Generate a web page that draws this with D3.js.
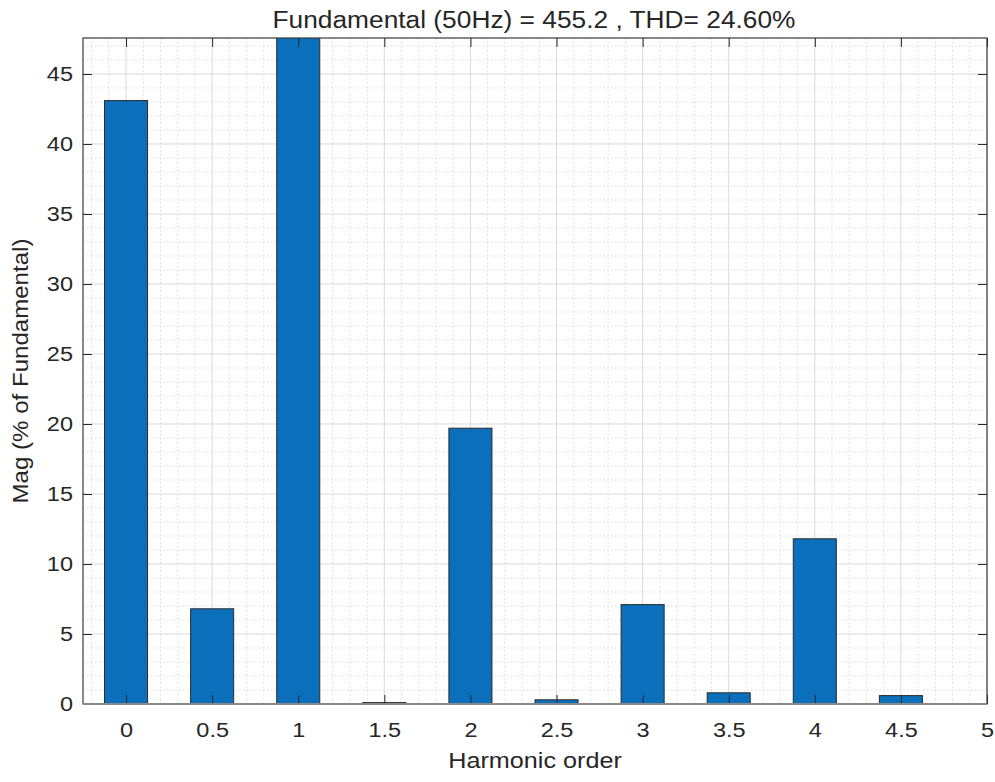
<!DOCTYPE html>
<html>
<head>
<meta charset="utf-8">
<script src="https://cdn.jsdelivr.net/npm/d3@7"></script>
<style>
  body { margin: 0; background: #fff; }
  text { font-family: "Liberation Sans", Arial, sans-serif; fill: #262626; }
</style>
</head>
<body>
<svg id="chart" width="995" height="782"></svg>
<script>
// ---- data ----
const harmonicOrders = [0, 0.5, 1, 1.5, 2, 2.5, 3, 3.5, 4, 4.5];
const magnitudes     = [43.1, 6.8, 100, 0.1, 19.7, 0.3, 7.1, 0.8, 11.8, 0.6];
const xTicks = [0, 0.5, 1, 1.5, 2, 2.5, 3, 3.5, 4, 4.5, 5];
const yTicks = [0, 5, 10, 15, 20, 25, 30, 35, 40, 45];
const titleText = "Fundamental (50Hz) = 455.2 , THD= 24.60%";
const xLabel = "Harmonic order";
const yLabel = "Mag (% of Fundamental)";

// ---- layout ----
const svg = d3.select("#chart");
const L = 83, R = 987, T = 38, B = 704;
const SX = 1.12; // horizontal stretch of text seen in reference

const x = d3.scaleLinear().domain([-0.25, 5]).range([L, R]);
const y = d3.scaleLinear().domain([0, 47.57]).range([B, T]);

svg.append("rect").attr("x", L).attr("y", T).attr("width", R - L).attr("height", B - T).attr("fill", "#fff");

// minor grid
const xMinor = d3.range(-0.2, 5.001, 0.1).map(v => +v.toFixed(2)).filter(v => Math.abs(v * 2 - Math.round(v * 2)) > 1e-6);
const yMinor = d3.range(1, 48, 1).filter(v => v % 5 !== 0);
const grid = svg.append("g");
grid.selectAll(".xm").data(xMinor).join("line")
  .attr("x1", d => x(d)).attr("x2", d => x(d)).attr("y1", T).attr("y2", B)
  .attr("stroke", "#cfcfcf").attr("stroke-width", 0.8).attr("stroke-dasharray", "1.5,2.5");
grid.selectAll(".ym").data(yMinor).join("line")
  .attr("x1", L).attr("x2", R).attr("y1", d => y(d)).attr("y2", d => y(d))
  .attr("stroke", "#cfcfcf").attr("stroke-width", 0.8).attr("stroke-dasharray", "1.5,2.5");
// major grid
grid.selectAll(".xM").data(xTicks).join("line")
  .attr("x1", d => x(d)).attr("x2", d => x(d)).attr("y1", T).attr("y2", B)
  .attr("stroke", "#dadada").attr("stroke-width", 1);
grid.selectAll(".yM").data(yTicks).join("line")
  .attr("x1", L).attr("x2", R).attr("y1", d => y(d)).attr("y2", d => y(d))
  .attr("stroke", "#dadada").attr("stroke-width", 1);

// bars
svg.append("clipPath").attr("id", "clip").append("rect")
  .attr("x", L).attr("y", T).attr("width", R - L).attr("height", B - T);
const bw = x(0.25) - x(0);
svg.append("g").attr("clip-path", "url(#clip)")
  .selectAll("rect").data(harmonicOrders).join("rect")
  .attr("x", (d) => x(d) - bw / 2)
  .attr("y", (d, i) => y(magnitudes[i]))
  .attr("width", bw)
  .attr("height", (d, i) => B - y(magnitudes[i]))
  .attr("fill", "#0b6fbb")
  .attr("stroke", "#2a2a2a").attr("stroke-width", 1);

// axes (MATLAB box with inward ticks)
const tl = 9;
const axBottom = d3.axisBottom(x).tickValues(xTicks).tickSizeInner(-tl).tickSizeOuter(0).tickPadding(18).tickFormat(d3.format("~g"));
const axTop = d3.axisTop(x).tickValues(xTicks).tickSizeInner(-tl).tickSizeOuter(0).tickFormat("");
const axLeft = d3.axisLeft(y).tickValues(yTicks).tickSizeInner(-tl).tickSizeOuter(0);
const axRight = d3.axisRight(y).tickValues(yTicks).tickSizeInner(-tl).tickSizeOuter(0).tickFormat("");

function styleAxis(g) {
  g.select(".domain").remove();
  g.selectAll(".tick line").attr("stroke", "#262626").attr("stroke-width", 1);
  g.selectAll(".tick text").attr("font-size", 21).attr("fill", "#262626")
    .attr("font-family", "'Liberation Sans', Arial, sans-serif");
}
const gb = svg.append("g").attr("transform", `translate(0,${B})`).call(axBottom).call(styleAxis);
gb.selectAll(".tick text").attr("transform", `scale(${SX},1)`);
svg.append("g").attr("transform", `translate(0,${T})`).call(axTop).call(styleAxis);
const gl = svg.append("g").attr("transform", `translate(${L},0)`).call(axLeft).call(styleAxis);
gl.selectAll(".tick text").attr("x", 0).attr("transform", `translate(-10,0) scale(${SX},1)`);
svg.append("g").attr("transform", `translate(${R},0)`).call(axRight).call(styleAxis);

// box
svg.append("rect").attr("x", L).attr("y", T).attr("width", R - L).attr("height", B - T)
  .attr("fill", "none").attr("stroke", "#3a3a3a").attr("stroke-width", 1.2);
svg.append("line").attr("x1", L).attr("x2", R).attr("y1", B).attr("y2", B)
  .attr("stroke", "#8a8a8a").attr("stroke-width", 2);

// title & labels
svg.append("text").attr("transform", `translate(${(L + R) / 2 - 1},28) scale(${SX},1)`)
  .attr("text-anchor", "middle").attr("font-size", 23.5).text(titleText);
svg.append("text").attr("transform", `translate(${(L + R) / 2},768) scale(${SX},1)`)
  .attr("text-anchor", "middle").attr("font-size", 22.5).text(xLabel);
svg.append("text").attr("transform", `translate(28,${(T + B) / 2}) rotate(-90) scale(${SX},1)`)
  .attr("text-anchor", "middle").attr("font-size", 21.5).text(yLabel);
</script>
</body>
</html>
